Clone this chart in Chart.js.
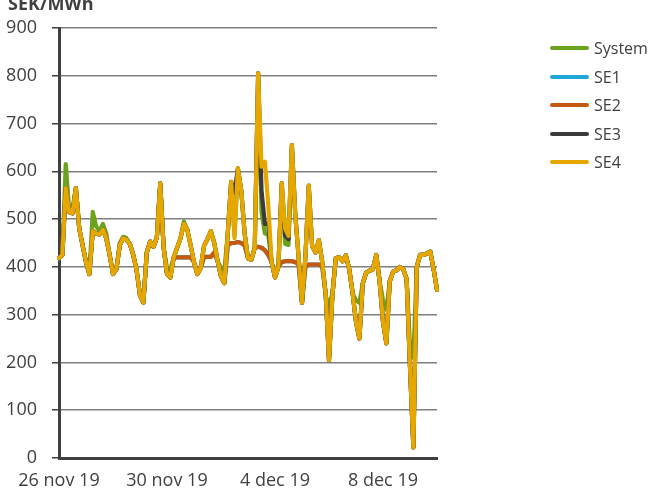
<!DOCTYPE html>
<html>
<head>
<meta charset="utf-8">
<script src="https://cdn.jsdelivr.net/npm/chart.js@4.4.1/dist/chart.umd.min.js"></script>
<style>
body { margin: 0; background: #fff; }
#wrap { position: relative; width: 650px; height: 494px; overflow: hidden; font-family: "Open Sans", sans-serif; color: #404040; }
#unit { position: absolute; left: 8px; top: -6px; font-weight: bold; font-size: 18px; line-height: 18px; }
.leg { position: absolute; left: 550px; height: 20px; font-size: 16px; line-height: 20px; }
.leg i { position: absolute; left: 0; top: 8px; width: 39px; height: 4px; border-radius: 2px; }
.leg span { position: absolute; left: 44px; top: 0; white-space: nowrap; }
</style>
</head>
<body>
<div id="wrap">
  <canvas id="priceChart" width="650" height="494"></canvas>
  <div id="unit">SEK/MWh</div>
  <div id="legend"></div>
</div>
<script>
// 3-hourly prices, 26 nov 2019 00:00 .. 10 dec 2019 00:00
const tickLabels = ['26 nov 19', '30 nov 19', '4 dec 19', '8 dec 19'];
const seriesNames = ['System', 'SE1', 'SE2', 'SE3', 'SE4'];
const seriesColors = ['#6ba31c', '#1fa7d6', '#c5590f', '#3b3b3b', '#e5a700'];

const system = [
  418, 425, 615, 520, 522, 565, 480, 445, 410, 385,
  515, 485, 475, 490, 470, 425, 385, 395, 450, 463,
  460, 448, 425, 393, 340, 325, 430, 453, 442, 462,
  575, 440, 398, 395, 420, 440, 460, 495, 478, 445,
  410, 385, 398, 445, 458, 475, 450, 412, 398, 392,
  470, 578, 467, 606, 560, 470, 418, 415, 440, 805,
  515, 470, 468, 410, 378, 400, 575, 448, 446, 655,
  510, 420, 325, 420, 570, 443, 430, 456, 410, 340,
  318, 345, 418, 420, 412, 424, 395, 345, 330, 325,
  365, 388, 392, 395, 425, 370, 330, 310, 370, 390,
  393, 400, 395, 375, 235, 210, 400, 425, 425, 428,
  432, 395, 352
];
const se1 = [
  418, 425, 565, 515, 512, 565, 480, 445, 410, 385,
  475, 470, 468, 478, 460, 425, 385, 395, 445, 460,
  457, 448, 425, 393, 340, 325, 430, 453, 442, 462,
  575, 440, 385, 378, 420, 420, 420, 420, 420, 420,
  410, 385, 398, 421, 421, 421, 430, 412, 380, 366,
  445, 450, 450, 452, 450, 445, 418, 415, 440, 442,
  440, 435, 425, 410, 378, 400, 410, 412, 412, 412,
  410, 405, 325, 400, 405, 405, 405, 405, 400, 345,
  205, 340, 418, 420, 412, 424, 395, 345, 285, 250,
  365, 388, 392, 395, 425, 370, 285, 240, 370, 390,
  393, 400, 395, 375, 190, 22, 400, 425, 425, 428,
  432, 395, 352
];
const se2 = [
  418, 425, 565, 515, 512, 565, 480, 445, 410, 385,
  475, 470, 468, 478, 460, 425, 385, 395, 445, 460,
  457, 448, 425, 393, 340, 325, 430, 453, 442, 462,
  575, 440, 385, 378, 420, 420, 420, 420, 420, 420,
  410, 385, 398, 421, 421, 421, 430, 412, 380, 366,
  445, 450, 450, 452, 450, 445, 418, 415, 440, 442,
  440, 435, 425, 410, 378, 400, 410, 412, 412, 412,
  410, 405, 325, 400, 405, 405, 405, 405, 400, 345,
  205, 340, 418, 420, 412, 424, 395, 345, 285, 250,
  365, 388, 392, 395, 425, 370, 285, 240, 370, 390,
  393, 400, 395, 375, 190, 22, 400, 425, 425, 428,
  432, 395, 352
];
const se3 = [
  418, 425, 565, 515, 512, 565, 480, 445, 410, 385,
  475, 470, 468, 478, 460, 425, 385, 395, 445, 460,
  457, 448, 425, 393, 340, 325, 430, 453, 442, 462,
  575, 440, 385, 378, 420, 440, 460, 490, 478, 445,
  410, 385, 398, 445, 458, 475, 450, 412, 380, 366,
  470, 578, 555, 606, 560, 470, 418, 415, 440, 805,
  560, 490, 490, 410, 378, 400, 575, 465, 458, 655,
  510, 420, 325, 420, 570, 443, 430, 456, 410, 345,
  205, 340, 418, 420, 412, 424, 395, 345, 285, 250,
  365, 388, 392, 395, 425, 370, 285, 240, 370, 390,
  393, 400, 395, 375, 190, 22, 400, 425, 425, 428,
  432, 395, 352
];
const se4 = [
  418, 425, 565, 515, 512, 565, 480, 445, 410, 385,
  475, 470, 468, 478, 460, 425, 385, 395, 445, 460,
  457, 448, 425, 393, 340, 325, 430, 453, 442, 462,
  575, 440, 385, 378, 420, 440, 460, 490, 478, 445,
  410, 385, 398, 445, 458, 475, 450, 412, 380, 366,
  470, 578, 460, 606, 560, 470, 418, 415, 440, 805,
  610, 620, 530, 410, 378, 400, 575, 480, 465, 655,
  510, 420, 325, 420, 570, 443, 430, 456, 410, 345,
  205, 340, 418, 420, 412, 424, 395, 345, 285, 250,
  365, 388, 392, 395, 425, 370, 285, 240, 370, 390,
  393, 400, 395, 375, 190, 22, 400, 425, 425, 428,
  432, 395, 352
];

// category labels, one every 3 hours
const times = [];
const start = new Date(2019, 10, 26);
for (let i = 0; i < se4.length; i++) {
  const d = new Date(start.getTime() + i * 3 * 3600 * 1000);
  times.push(d.getDate() + '/' + (d.getMonth() + 1) + ' ' + d.getHours() + ':00');
}

const values = [system, se1, se2, se3, se4];
const datasets = values.map((v, k) => ({
  label: seriesNames[k],
  data: v,
  borderColor: seriesColors[k],
  backgroundColor: seriesColors[k],
  borderWidth: 4.2,
  pointRadius: 0,
  tension: 0,
  borderJoinStyle: 'round',
  borderCapStyle: 'round',
  order: seriesNames.length - k   // SE4 on top
}));

// legend on the right
const legend = document.getElementById('legend');
seriesNames.forEach((name, k) => {
  const item = document.createElement('div');
  item.className = 'leg';
  item.style.top = (38 + k * 28.6) + 'px';
  item.innerHTML = '<i style="background:' + seriesColors[k] + '"></i><span>' + name + '</span>';
  legend.appendChild(item);
});

const axisFont = { family: 'Open Sans', size: 18 };

new Chart(document.getElementById('priceChart'), {
  type: 'line',
  data: { labels: times, datasets: datasets },
  options: {
    responsive: false,
    animation: false,
    layout: { padding: { top: 28, right: 213, bottom: 0, left: 0 } },
    plugins: { legend: { display: false }, tooltip: { enabled: false } },
    scales: {
      x: {
        grid: { display: false },
        border: { display: true, color: '#404040', width: 3 },
        ticks: {
          autoSkip: false,
          maxRotation: 0,
          padding: 4,
          color: '#404040',
          font: axisFont,
          callback: (val, i) => (i % 32 === 0 ? tickLabels[i / 32] : '')
        },
        afterFit(scale) { scale.height = 36; }
      },
      y: {
        min: 0,
        max: 900,
        ticks: { stepSize: 100, padding: 15, color: '#404040', font: axisFont },
        grid: { color: '#7f7f7f', lineWidth: 1.5, tickLength: 7, tickColor: '#404040' },
        border: { color: '#404040', width: 3 },
        afterFit(scale) { scale.width = 59; }
      }
    }
  }
});
</script>
</body>
</html>
